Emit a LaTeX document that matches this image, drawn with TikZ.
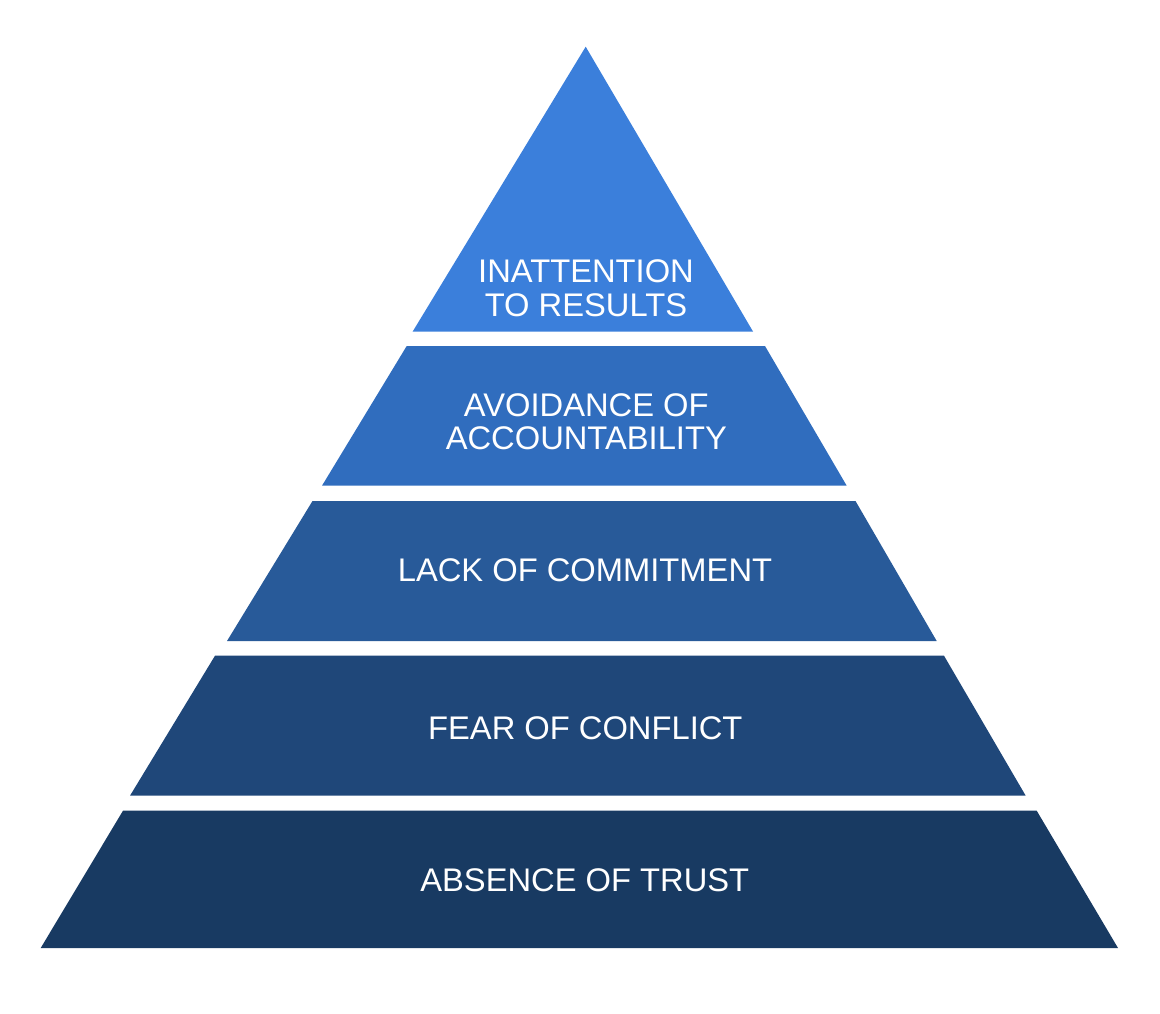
\documentclass[tikz,border=0pt]{standalone}
\usepackage{fontspec}
\setmainfont{Liberation Sans}
\definecolor{lvA}{RGB}{59,127,219}
\definecolor{lvB}{RGB}{48,109,190}
\definecolor{lvC}{RGB}{40,90,153}
\definecolor{lvD}{RGB}{31,71,121}
\definecolor{lvE}{RGB}{24,58,98}
\tikzset{
  lbl/.style={text=white, inner sep=0pt, anchor=center, align=center,
    font=\fontsize{32.7}{33.3}\selectfont}
}
\begin{document}
\begin{tikzpicture}[x=1pt,y=-1pt]
\useasboundingbox (0,0) rectangle (1160,1013);
% layers
\fill[lvA] (585.7,46.7) -- (753,331.5) -- (412.7,331.5) -- cycle;
\fill[lvB] (406.7,346) -- (765,346) -- (846.7,485.7) -- (322,485.7) -- cycle;
\fill[lvC] (312.5,501) -- (855.5,501) -- (936.7,641) -- (227,641) -- cycle;
\fill[lvD] (215,655.7) -- (944,655.7) -- (1025.7,795.7) -- (130,795.7) -- cycle;
\fill[lvE] (123,810.7) -- (1036.7,810.7) -- (1118,948) -- (40.7,948) -- cycle;
% labels
\node[lbl] (results) at (586,288.3) {INATTENTION\\TO RESULTS};
\node[lbl] (account) at (586.3,421.7) {AVOIDANCE OF\\ACCOUNTABILITY};
\node[lbl] (commit) at (585,570) {LACK OF COMMITMENT};
\node[lbl] (conflict) at (585.3,728.7) {FEAR OF CONFLICT};
\node[lbl] (trust) at (584.8,880.5) {ABSENCE OF TRUST};
\end{tikzpicture}
\end{document}
